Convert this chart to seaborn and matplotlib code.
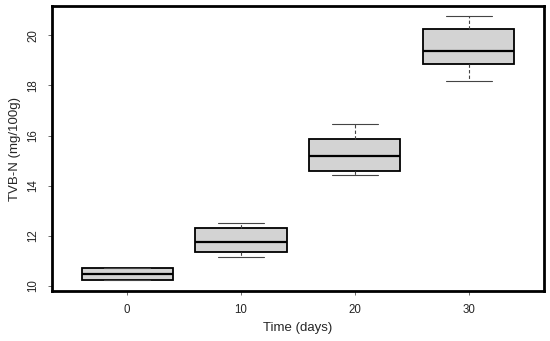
import seaborn as sns
import pandas as pd
import matplotlib.pyplot as plt

# five-number summaries (min, Q1, median, Q3, max)
day_0 = [10.23, 10.23, 10.49, 10.70, 10.70]
day_10 = [11.16, 11.37, 11.76, 12.31, 12.51]
day_20 = [14.41, 14.58, 15.19, 15.87, 16.45]
day_30 = [18.18, 18.87, 19.39, 20.23, 20.76]
days = ["0", "10", "20", "30"]

values = day_0 + day_10 + day_20 + day_30
groups = [d for d, g in zip(days, [day_0, day_10, day_20, day_30]) for _ in g]
df = pd.DataFrame({"time": groups, "tvbn": values})

sns.set_style("white")
plt.rcParams["font.family"] = ["Liberation Sans", "DejaVu Sans"]

fig = plt.figure(figsize=(5.5, 3.41), dpi=100)
ax = fig.add_axes([0.0945, 0.1466, 0.8945, 0.8354])

sns.boxplot(data=df, x="time", y="tvbn", order=days, ax=ax,
            width=0.8, whis=1.5, color="#d3d3d3", saturation=1,
            linecolor="black", linewidth=1.3,
            whiskerprops={"linestyle": (0, (3, 2)), "linewidth": 0.8, "color": "#444444"},
            capprops={"linewidth": 0.8, "color": "#444444"},
            medianprops={"linewidth": 1.6, "color": "black"},
            capwidths=0.4)

ax.set_xlim(-0.66, 3.66)
ax.set_ylim(9.80, 21.16)
ax.set_yticks([10, 12, 14, 16, 18, 20])
ax.set_xlabel("Time (days)", fontsize=9.5, labelpad=5)
ax.set_ylabel("TVB-N (mg/100g)", fontsize=9.5, labelpad=5)
ax.tick_params(axis="both", labelsize=8.3, length=3, width=0.6, direction="out",
               bottom=True, left=True, color="#555555", pad=6)
plt.setp(ax.get_yticklabels(), rotation=90, va="center")
for s in ax.spines.values():
    s.set_linewidth(2)
    s.set_color("black")

plt.savefig("out.png", dpi=100)
